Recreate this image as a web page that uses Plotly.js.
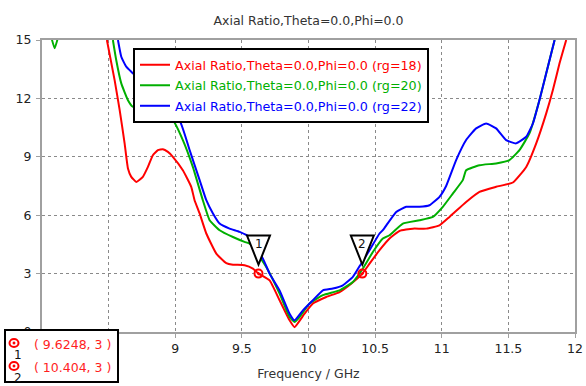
<!DOCTYPE html>
<html>
<head>
<meta charset="utf-8">
<script src="https://cdn.plot.ly/plotly-3.0.1.min.js"></script>
<style>html,body{margin:0;padding:0;background:#fff;}#chart{width:586px;height:386px;}</style>
</head>
<body>
<div id="chart"></div>
<script>
// ---- data ----
const seriesNames = ['Axial Ratio,Theta=0.0,Phi=0.0 (rg=18)', 'Axial Ratio,Theta=0.0,Phi=0.0 (rg=20)', 'Axial Ratio,Theta=0.0,Phi=0.0 (rg=22)'];
const seriesColors = ['rgb(255,0,0)', 'rgb(0,175,0)', 'rgb(0,0,255)'];

const freqRg18 = [8.487, 8.545, 8.583, 8.62, 8.645, 8.67, 8.708, 8.757, 8.795, 8.832, 8.87, 8.907, 8.945, 8.982, 9.057, 9.12, 9.145, 9.183, 9.233, 9.308, 9.383, 9.433, 9.52, 9.583, 9.6248, 9.708, 9.783, 9.858, 9.895, 9.97, 10.033, 10.133, 10.233, 10.32, 10.404, 10.458, 10.533, 10.608, 10.683, 10.783, 10.884, 10.983, 11.058, 11.183, 11.283, 11.408, 11.534, 11.634, 11.709, 11.784, 11.834, 11.884, 11.934];
const arRg18   = [15, 12.94, 11.4, 9.69, 8.4, 7.97, 7.71, 7.97, 8.48, 9.08, 9.34, 9.39, 9.25, 9.0, 8.31, 7.46, 6.77, 6.09, 5.06, 4.03, 3.54, 3.46, 3.43, 3.26, 3.0, 2.65, 1.63, 0.6, 0.25, 0.94, 1.46, 1.80, 2.05, 2.48, 3.0, 3.51, 4.2, 4.8, 5.19, 5.31, 5.31, 5.48, 5.91, 6.68, 7.2, 7.46, 7.68, 8.48, 9.69, 11.23, 12.43, 13.8, 15];

const freqRg20 = [8.06, 8.095, 8.13, null, 8.532, 8.557, 8.595, 8.645, 8.682, 8.982, 9.057, 9.132, 9.207, 9.258, 9.333, 9.433, 9.52, 9.558, 9.583, 9.683, 9.783, 9.858, 9.895, 9.933, 10.008, 10.108, 10.233, 10.333, 10.408, 10.483, 10.558, 10.608, 10.708, 10.833, 10.933, 11.008, 11.083, 11.158, 11.183, 11.283, 11.408, 11.508, 11.583, 11.658, 11.733, 11.784, 11.847];
const arRg20   = [15.4, 14.57, 15.4, null, 15, 13.97, 12.77, 11.91, 11.57, 10.88, 9.86, 8.48, 6.77, 5.74, 5.23, 4.88, 4.63, 4.54, 4.37, 3.34, 1.97, 0.77, 0.51, 0.77, 1.46, 1.89, 2.14, 2.57, 3.26, 4.11, 4.8, 4.97, 5.57, 5.74, 5.91, 6.43, 7.11, 7.8, 8.31, 8.57, 8.66, 8.83, 9.34, 10.2, 11.91, 13.29, 15];

const freqRg22 = [8.57, 8.595, 8.632, 8.682, 9.032, 9.108, 9.183, 9.233, 9.283, 9.333, 9.408, 9.483, 9.558, 9.658, 9.708, 9.783, 9.858, 9.895, 9.958, 10.033, 10.108, 10.183, 10.258, 10.333, 10.395, 10.458, 10.533, 10.558, 10.658, 10.733, 10.833, 10.908, 10.983, 11.033, 11.108, 11.183, 11.258, 11.333, 11.408, 11.483, 11.558, 11.634, 11.684, 11.733, 11.784, 11.847];
const arRg22   = [15, 14.14, 13.63, 13.29, 10.88, 9.34, 7.8, 6.77, 6.09, 5.57, 5.31, 5.14, 4.88, 3.77, 3.0, 2.14, 0.94, 0.6, 1.11, 1.63, 2.14, 2.23, 2.4, 2.83, 3.51, 4.2, 5.06, 5.23, 6.17, 6.43, 6.43, 6.51, 6.94, 7.5, 8.83, 9.86, 10.46, 10.71, 10.46, 9.86, 9.69, 10.03, 10.71, 11.91, 13.29, 15];

const markerX = [9.6248, 10.404];
const markerY = [3, 3];
const markerLabels = ['1', '2'];

const xTickVals = [8, 8.5, 9, 9.5, 10, 10.5, 11, 11.5, 12];
const xTickText = ['', '', '9', '9.5', '10', '10.5', '11', '11.5', '12'];
const yTickVals = [0, 3, 6, 9, 12, 15];
const yTickText = ['0', '3', '6', '9', '12', '15'];

// ---- layout helpers (pixel -> paper) ----
const W = 586, H = 386;
const M = {l: 42, r: 11, t: 40, b: 54};
const PW = W - M.l - M.r, PH = H - M.t - M.b;
const px = v => (v - M.l) / PW;
const py = v => (H - M.b - v) / PH;

const FONT = 'DejaVu Sans, Verdana, sans-serif';
const FS = 12.5;

const xs = [freqRg18, freqRg20, freqRg22];
const ys = [arRg18, arRg20, arRg22];

const traces = xs.map((x, i) => ({
  type: 'scatter', mode: 'lines', x: x, y: ys[i],
  name: '<span style="color:' + seriesColors[i] + '">' + seriesNames[i] + '</span>',
  line: {color: seriesColors[i], width: 2, shape: 'spline', smoothing: 0.4},
  connectgaps: false, legendgroup: 'g' + i, hoverinfo: 'skip'
}));

traces.push({
  type: 'scatter', mode: 'markers', x: markerX, y: markerY, showlegend: false,
  marker: {symbol: 'circle-open-dot', size: 8, color: 'rgb(255,0,0)', line: {width: 2, color: 'rgb(255,0,0)'}},
  hoverinfo: 'skip', cliponaxis: false
});

const shapes = [];
const annotations = [];

markerX.forEach((mx, i) => {
  shapes.push({
    type: 'path', xref: 'x', yref: 'y', xsizemode: 'pixel', ysizemode: 'pixel',
    xanchor: mx, yanchor: markerY[i], path: 'M-11.5,38 L11.5,38 L0,9 Z',
    fillcolor: 'white', line: {color: 'black', width: 2}, layer: 'above'
  });
  annotations.push({
    x: mx, y: markerY[i], xref: 'x', yref: 'y', yshift: 30, showarrow: false,
    xanchor: 'center', yanchor: 'middle',
    text: markerLabels[i], font: {family: FONT, size: 12, color: '#111'}
  });
});

// marker readout box
shapes.push({
  type: 'rect', xref: 'paper', yref: 'paper', x0: px(5), x1: px(118), y0: py(382), y1: py(330),
  fillcolor: 'white', line: {color: 'black', width: 2}, layer: 'above'
});
const rowY = [344, 367];
markerX.forEach((mx, i) => {
  shapes.push({
    type: 'circle', xref: 'paper', yref: 'paper', xsizemode: 'pixel', ysizemode: 'pixel',
    xanchor: px(14), yanchor: py(rowY[i] - 1), x0: -4.5, x1: 4.5, y0: -4, y1: 4,
    fillcolor: 'white', line: {color: 'rgb(255,0,0)', width: 2}, layer: 'above'
  });
  shapes.push({
    type: 'circle', xref: 'paper', yref: 'paper', xsizemode: 'pixel', ysizemode: 'pixel',
    xanchor: px(14), yanchor: py(rowY[i] - 1), x0: -1.2, x1: 1.2, y0: -1.2, y1: 1.2,
    fillcolor: 'rgb(255,0,0)', line: {color: 'rgb(255,0,0)', width: 0.5}, layer: 'above'
  });
  annotations.push({
    x: px(18.3), y: py(rowY[i] + 11), xref: 'paper', yref: 'paper', showarrow: false,
    xanchor: 'center', yanchor: 'middle',
    text: markerLabels[i], font: {family: FONT, size: 12, color: '#111'}
  });
  annotations.push({
    x: px(32), y: py(rowY[i]), xref: 'paper', yref: 'paper', xanchor: 'left', yanchor: 'middle', showarrow: false,
    text: '( ' + mx + ', ' + markerY[i] + ' )', font: {family: FONT, size: FS, color: 'rgb(255,30,30)'}
  });
});

const axisCommon = {
  showline: true, linecolor: '#a0a0a0', linewidth: 2, mirror: true,
  showgrid: true, gridcolor: '#8a8a8a', gridwidth: 1, griddash: 'dot',
  ticks: 'outside', ticklen: 4, tickcolor: '#a0a0a0', tickwidth: 1,
  zeroline: false, tickfont: {family: FONT, size: FS, color: '#222'}
};

const layout = {
  width: W, height: H, margin: M, paper_bgcolor: 'white', plot_bgcolor: 'white',
  title: {text: 'Axial Ratio,Theta=0.0,Phi=0.0', x: 0.5, xref: 'paper', y: 1 - 20.5 / H, yref: 'container', yanchor: 'middle',
          font: {family: FONT, size: FS, color: '#333'}},
  xaxis: Object.assign({}, axisCommon, {
    range: [8, 12], tickmode: 'array', tickvals: xTickVals, ticktext: xTickText,
    title: {text: 'Frequency / GHz', standoff: 14, font: {family: FONT, size: FS, color: '#333'}}
  }),
  yaxis: Object.assign({}, axisCommon, {
    range: [0, 15], tickmode: 'array', tickvals: yTickVals, ticktext: yTickText, ticklabelstandoff: 2
  }),
  showlegend: true,
  legend: {
    x: px(133), y: py(48), xanchor: 'left', yanchor: 'top',
    bgcolor: 'white', bordercolor: 'black', borderwidth: 2,
    font: {family: FONT, size: 12.7}, tracegroupgap: 1, traceorder: 'grouped'
  },
  shapes: shapes, annotations: annotations
};

Plotly.newPlot('chart', traces, layout, {staticPlot: true, displayModeBar: false});
</script>
</body>
</html>
